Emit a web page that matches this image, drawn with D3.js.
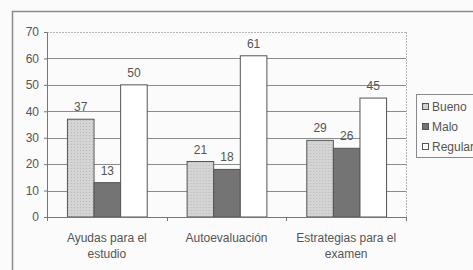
<!DOCTYPE html>
<html>
<head>
<meta charset="utf-8">
<script src="https://cdn.jsdelivr.net/npm/d3@7"></script>
<style>
  body { margin: 0; background: #fbfbfb; }
  svg { display: block; font-family: "Liberation Sans", Arial, sans-serif; }
</style>
</head>
<body>
<svg id="chart" width="473" height="270"></svg>
<script>
const categories = [["Ayudas para el", "estudio"], ["Autoevaluación"], ["Estrategias para el", "examen"]];
const seriesNames = ["Bueno", "Malo", "Regular"];
const bueno = [37, 21, 29];
const malo = [13, 18, 26];
const regular = [50, 61, 45];
const yTicks = [0, 10, 20, 30, 40, 50, 60, 70];

const seriesValues = [bueno, malo, regular];
const fills = ["url(#stipple)", "#747474", "#ffffff"];

const svg = d3.select("#chart");
const margin = { left: 47, right: 67, top: 32, bottom: 53 };
const width = 473 - margin.left - margin.right;
const height = 270 - margin.top - margin.bottom;

// stipple for light bars
const pat = svg.append("defs").append("pattern")
  .attr("id", "stipple").attr("width", 3).attr("height", 3)
  .attr("patternUnits", "userSpaceOnUse");
pat.append("rect").attr("width", 3).attr("height", 3).attr("fill", "#d4d4d4");
pat.append("rect").attr("x", 1).attr("y", 1).attr("width", 1).attr("height", 1).attr("fill", "#bababa");

// outer frame
svg.append("path")
  .attr("d", "M12.5,270 L12.5,11.5 L473,11.5")
  .attr("fill", "none").attr("stroke", "#8a8a8a").attr("stroke-width", 1.5);

const g = svg.append("g").attr("transform", `translate(${margin.left},${margin.top})`);

const x0 = d3.scaleBand().domain(d3.range(categories.length))
  .range([0, width]).paddingInner(1 / 3).paddingOuter(1 / 6);
const x1 = d3.scaleBand().domain(d3.range(seriesNames.length)).range([0, x0.bandwidth()]);
const y = d3.scaleLinear().domain([0, 70]).range([height, 0]);

// gridlines
g.append("g").selectAll("line").data(yTicks.filter(d => d > 0)).join("line")
  .attr("x1", 0).attr("x2", width)
  .attr("y1", d => Math.round(y(d)) + 0.5).attr("y2", d => Math.round(y(d)) + 0.5)
  .attr("stroke", d => d === 70 ? "#b5b5b5" : "#8c8c8c")
  .attr("stroke-dasharray", d => d === 70 ? "2,1" : null);
g.append("line").attr("x1", width + 0.5).attr("x2", width + 0.5)
  .attr("y1", y(70)).attr("y2", height)
  .attr("stroke", "#b5b5b5").attr("stroke-dasharray", "2,1");

// y axis
const yAxis = g.append("g").call(d3.axisLeft(y).tickValues(yTicks).tickSize(3).tickPadding(5));
yAxis.select(".domain").attr("stroke", "#777");
yAxis.selectAll(".tick line").attr("stroke", "#777");
yAxis.selectAll("text").attr("fill", "#555").attr("font-size", 12);

// bars
const groups = g.append("g").selectAll("g").data(categories).join("g")
  .attr("transform", (d, i) => `translate(${x0(i)},0)`);
groups.each(function (c, i) {
  const sel = d3.select(this);
  seriesValues.forEach((vals, s) => {
    sel.append("rect")
      .attr("x", x1(s) + 0.5).attr("y", y(vals[i]))
      .attr("width", x1.bandwidth()).attr("height", height - y(vals[i]))
      .attr("fill", fills[s]).attr("stroke", "#555").attr("stroke-width", 1);
    sel.append("text")
      .attr("x", x1(s) + x1.bandwidth() / 2 + 0.5).attr("y", y(vals[i]) - 8)
      .attr("text-anchor", "middle").attr("font-size", 12).attr("fill", "#555")
      .text(vals[i]);
  });
});

// x axis
const xAxis = g.append("g").attr("transform", `translate(0,${height})`);
xAxis.append("line").attr("x1", 0).attr("x2", width).attr("y1", 0.5).attr("y2", 0.5).attr("stroke", "#777");
xAxis.selectAll(".sep").data(d3.range(categories.length + 1)).join("line")
  .attr("x1", i => Math.round(i * x0.step()) + 0.5).attr("x2", i => Math.round(i * x0.step()) + 0.5)
  .attr("y1", 0).attr("y2", 4).attr("stroke", "#777");
xAxis.selectAll(".lbl").data(categories).join("text")
  .attr("x", (d, i) => x0(i) + x0.bandwidth() / 2)
  .attr("text-anchor", "middle").attr("font-size", 12).attr("fill", "#555")
  .each(function (lines) {
    d3.select(this).selectAll("tspan").data(lines).join("tspan")
      .attr("x", d3.select(this).attr("x"))
      .attr("y", (d, k) => 25 + k * 16)
      .text(d => d);
  });

// legend
const lg = svg.append("g").attr("transform", "translate(416,94)");
lg.append("rect").attr("x", 0.5).attr("y", 0.5).attr("width", 70).attr("height", 63)
  .attr("fill", "#fbfbfb").attr("stroke", "#8a8a8a");
seriesNames.forEach((name, s) => {
  lg.append("rect").attr("x", 6.5).attr("y", 9.5 + s * 20).attr("width", 6).attr("height", 6)
    .attr("fill", fills[s]).attr("stroke", "#555");
  lg.append("text").attr("x", 16).attr("y", 17 + s * 20)
    .attr("font-size", 12).attr("fill", "#555").text(name);
});
</script>
</body>
</html>
